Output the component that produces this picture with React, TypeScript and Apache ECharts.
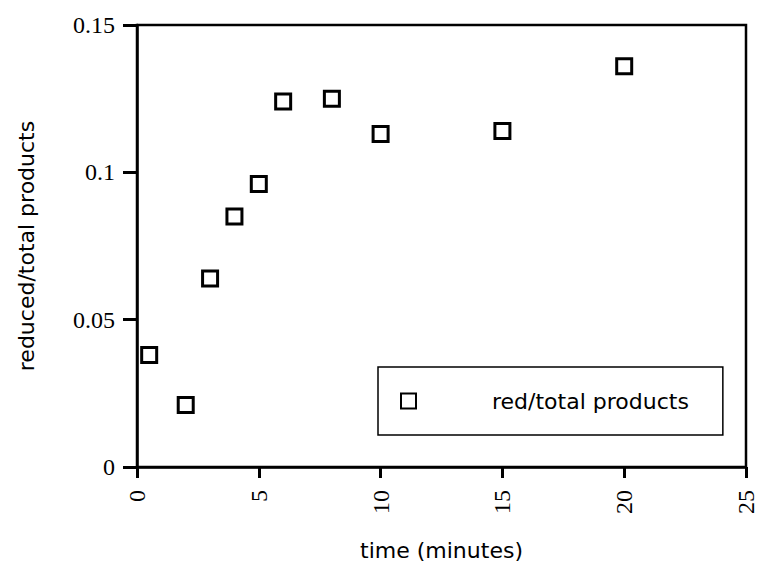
import React, { useEffect, useRef } from "react";
import * as echarts from "echarts";

const timeMinutes = [0.5, 2, 3, 4, 5, 6, 8, 10, 15, 20];
const redTotal = [0.038, 0.021, 0.064, 0.085, 0.096, 0.124, 0.125, 0.113, 0.114, 0.136];
const seriesName = "red/total products";
const xTitle = "time (minutes)";
const yTitle = "reduced/total products";

export default function App() {
  const ref = useRef<HTMLDivElement>(null);
  useEffect(() => {
    if (!ref.current) return;
    const chart = echarts.init(ref.current, null, { renderer: "svg" });
    const sans = "DejaVu Sans";
    const serif = "Liberation Serif";
    chart.setOption({
      animation: false,
      grid: { left: 137, right: 12, top: 25, bottom: 96, show: true, borderColor: "#000", borderWidth: 2.5, outerBoundsMode: "none" },
      legend: {
        left: 378,
        top: 367,
        borderColor: "#000",
        borderWidth: 1.5,
        padding: [22, 34, 22, 22],
        itemWidth: 15,
        itemHeight: 15,
        textStyle: { fontFamily: sans, fontSize: 22, color: "#000", lineHeight: 24, padding: [0, 0, 0, 71] },
        data: [seriesName],
      },
      xAxis: {
        type: "value", min: 0, max: 25, interval: 5,
        name: xTitle, nameLocation: "middle", nameGap: 72,
        nameTextStyle: { fontFamily: sans, fontSize: 22, color: "#000" },
        axisLine: { lineStyle: { color: "#000", width: 2.5 } },
        axisTick: { show: true, length: 11, lineStyle: { color: "#000", width: 3 } },
        axisLabel: { margin: 23, rotate: 90, fontFamily: serif, fontSize: 24, color: "#000" },
        splitLine: { show: false },
      },
      yAxis: {
        type: "value", min: 0, max: 0.15, interval: 0.05,
        name: yTitle, nameLocation: "middle", nameGap: 100,
        nameTextStyle: { fontFamily: sans, fontSize: 22, color: "#000" },
        axisLine: { show: true, lineStyle: { color: "#000", width: 2.5 } },
        axisTick: { show: true, length: 14, lineStyle: { color: "#000", width: 3 } },
        axisLabel: { margin: 22, fontFamily: serif, fontSize: 24, color: "#000" },
        splitLine: { show: false },
      },
      series: [
        {
          name: seriesName,
          type: "scatter",
          symbol: "rect",
          symbolSize: 15,
          itemStyle: { color: "#fff", borderColor: "#000", borderWidth: 3, opacity: 1 },
          data: timeMinutes.map((t, i) => [t, redTotal[i]]),
        },
      ],
    });
    return () => chart.dispose();
  }, []);
  return <div ref={ref} style={{ position: "fixed", left: 0, top: 0, width: 758, height: 563, background: "#fff" }} />;
}
